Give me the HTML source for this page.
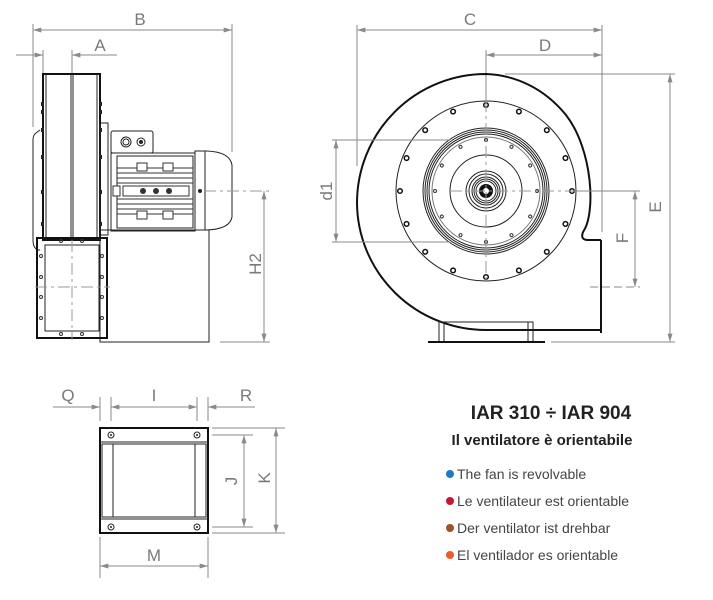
<!DOCTYPE html>
<html><head><meta charset="utf-8"><style>
html,body{margin:0;padding:0;background:#fff;width:713px;height:600px;overflow:hidden}
svg{display:block}
.d{stroke:#8a8a8a;stroke-width:1;fill:none}
.k{stroke:#222;fill:none;stroke-width:1}
.kk{stroke:#111;fill:none;stroke-width:2}
.c{stroke:#999;stroke-width:1;fill:none;stroke-dasharray:12 4 3 4}
.lab{font-family:"Liberation Sans",sans-serif;font-size:17px;fill:#7a7a7a}
</style></head><body>
<svg width="713" height="600" viewBox="0 0 713 600" xmlns="http://www.w3.org/2000/svg">
<defs>
<marker id="a" viewBox="0 0 10 6" refX="10" refY="3" markerWidth="12" markerHeight="5" orient="auto-start-reverse" markerUnits="userSpaceOnUse"><path d="M0 0L10 3L0 6z" fill="#8a8a8a"/></marker>
</defs>

<line class="d" x1="33" y1="30" x2="232" y2="30" marker-start="url(#a)" marker-end="url(#a)"/>
<line class="d" x1="33" y1="24" x2="33" y2="127"/>
<line class="d" x1="232" y1="24" x2="232" y2="152"/>
<text class="lab" x="140" y="25" text-anchor="middle">B</text>
<line class="d" x1="16" y1="55" x2="43" y2="55" marker-end="url(#a)"/>
<line class="d" x1="72" y1="55" x2="117" y2="55" marker-start="url(#a)"/>
<line class="d" x1="43" y1="50" x2="43" y2="74"/>
<line class="d" x1="72" y1="50" x2="72" y2="74"/>
<text class="lab" x="100" y="51" text-anchor="middle">A</text>

<path class="k" d="M40 130 L36 133 Q33 135 33 140 L33 240 Q33 248 38 250 L40 250"/>
<rect class="kk" x="43" y="74" width="57" height="166" stroke-width="1.5"/>
<line class="k" x1="46" y1="74" x2="46" y2="240"/>
<line class="k" x1="97" y1="74" x2="97" y2="240"/>
<line class="k" x1="71" y1="74" x2="71" y2="240"/>
<line class="k" x1="73" y1="74" x2="73" y2="240"/>
<g fill="#222">
<rect x="41" y="102" width="3" height="4"/><rect x="41" y="110" width="3" height="4"/><rect x="41" y="128" width="3" height="4"/><rect x="41" y="155" width="3" height="4"/><rect x="41" y="190" width="3" height="4"/><rect x="41" y="222" width="3" height="4"/>
<rect x="99" y="102" width="3" height="4"/><rect x="99" y="110" width="3" height="4"/><rect x="99" y="128" width="3" height="4"/><rect x="99" y="155" width="3" height="4"/><rect x="99" y="190" width="3" height="4"/><rect x="99" y="222" width="3" height="4"/>
</g>
<rect class="k" x="100" y="123" width="8" height="112"/>
<rect class="k" x="111" y="131" width="42" height="22" rx="2"/>
<circle class="k" cx="126" cy="142" r="5"/><circle class="k" cx="126" cy="142" r="3"/>
<circle class="k" cx="141" cy="142" r="4"/><circle cx="141" cy="142" r="2" fill="#222"/>
<rect class="k" x="111" y="153" width="84" height="78"/>
<rect class="k" x="117" y="156" width="76" height="72"/>
<g stroke="#333" stroke-width="1">
<line x1="117" y1="168" x2="193" y2="168"/><line x1="117" y1="173" x2="193" y2="173"/><line x1="117" y1="178" x2="193" y2="178"/><line x1="117" y1="183" x2="193" y2="183"/>
<line x1="117" y1="199" x2="193" y2="199"/><line x1="117" y1="204" x2="193" y2="204"/><line x1="117" y1="209" x2="193" y2="209"/><line x1="117" y1="214" x2="193" y2="214"/>
</g>
<rect x="123" y="186" width="66" height="10" fill="#fff" stroke="#333"/>
<circle cx="143" cy="191" r="3" fill="#333"/><circle cx="156" cy="191" r="3" fill="#333"/><circle cx="169" cy="191" r="3" fill="#333"/>
<rect x="137" y="163" width="10" height="8" fill="#fff" stroke="#333"/><rect x="163" y="163" width="10" height="8" fill="#fff" stroke="#333"/>
<rect x="137" y="211" width="10" height="8" fill="#fff" stroke="#333"/><rect x="163" y="211" width="10" height="8" fill="#fff" stroke="#333"/>
<rect x="113" y="186" width="7" height="10" fill="#fff" stroke="#333"/>
<path class="k" d="M195 151 L207 151 Q230 152 232 165 L232 217 Q230 229 207 230 L195 230 Z"/>
<line class="k" x1="205" y1="151" x2="205" y2="230"/>
<circle cx="200" cy="191" r="2" fill="#222"/>
<rect class="k" x="100" y="230" width="109" height="112"/>
<rect class="kk" x="37" y="238" width="70" height="100" fill="#fff" stroke-width="1.5"/>
<rect class="k" x="45" y="245" width="54" height="86"/>
<g fill="none" stroke="#333">
<circle cx="61" cy="241" r="1.5"/><circle cx="82" cy="241" r="1.5"/><circle cx="61" cy="334" r="1.5"/><circle cx="82" cy="334" r="1.5"/>
<circle cx="41" cy="256" r="1.5"/><circle cx="41" cy="277" r="1.5"/><circle cx="41" cy="297" r="1.5"/><circle cx="41" cy="318" r="1.5"/>
<circle cx="102" cy="256" r="1.5"/><circle cx="102" cy="277" r="1.5"/><circle cx="102" cy="297" r="1.5"/><circle cx="102" cy="318" r="1.5"/>
</g>
<line class="c" x1="72" y1="240" x2="72" y2="340"/>
<line class="c" x1="35" y1="287" x2="110" y2="287"/>
<line class="c" x1="204" y1="191" x2="272" y2="191"/>
<line class="d" x1="220" y1="342" x2="270" y2="342"/>
<line class="d" x1="264" y1="191" x2="264" y2="342" marker-start="url(#a)" marker-end="url(#a)"/>
<text class="lab" transform="translate(261 264) rotate(-90)" text-anchor="middle">H2</text>

<line class="d" x1="357" y1="30" x2="602" y2="30" marker-start="url(#a)" marker-end="url(#a)"/>
<line class="d" x1="357" y1="25" x2="357" y2="166"/>
<line class="d" x1="602" y1="25" x2="602" y2="232"/>
<text class="lab" x="470" y="25" text-anchor="middle">C</text>
<line class="d" x1="486" y1="55" x2="602" y2="55" marker-start="url(#a)" marker-end="url(#a)"/>
<line class="d" x1="486" y1="50" x2="486" y2="100"/>
<text class="lab" x="545" y="51" text-anchor="middle">D</text>
<path class="kk" d="M583 232 C596 214 593 150 566 115 C544 88 515 75 486 74 A129 129 0 0 0 357 203 A129 128 0 0 0 486 330 L601 330 M601 240 L601 333 M583 232 Q580 240 588 240 L601 240"/>
<rect class="k" x="439" y="322" width="94" height="20"/>
<line class="k" x1="444" y1="322" x2="444" y2="342"/><line class="k" x1="528" y1="322" x2="528" y2="342"/>
<line class="kk" x1="428" y1="342" x2="545" y2="342"/>
<circle class="k" cx="486" cy="191" r="90"/>
<g fill="#fff" stroke="#111" stroke-width="1.5">
<circle cx="486" cy="105" r="2.3"/><circle cx="486" cy="105" r="2.3" transform="rotate(22.5 486 191)"/><circle cx="486" cy="105" r="2.3" transform="rotate(45 486 191)"/><circle cx="486" cy="105" r="2.3" transform="rotate(67.5 486 191)"/><circle cx="486" cy="105" r="2.3" transform="rotate(90 486 191)"/><circle cx="486" cy="105" r="2.3" transform="rotate(112.5 486 191)"/><circle cx="486" cy="105" r="2.3" transform="rotate(135 486 191)"/><circle cx="486" cy="105" r="2.3" transform="rotate(157.5 486 191)"/><circle cx="486" cy="105" r="2.3" transform="rotate(180 486 191)"/><circle cx="486" cy="105" r="2.3" transform="rotate(202.5 486 191)"/><circle cx="486" cy="105" r="2.3" transform="rotate(225 486 191)"/><circle cx="486" cy="105" r="2.3" transform="rotate(247.5 486 191)"/><circle cx="486" cy="105" r="2.3" transform="rotate(270 486 191)"/><circle cx="486" cy="105" r="2.3" transform="rotate(292.5 486 191)"/><circle cx="486" cy="105" r="2.3" transform="rotate(315 486 191)"/><circle cx="486" cy="105" r="2.3" transform="rotate(337.5 486 191)"/>
</g>
<g class="k">
<circle cx="486" cy="191" r="63"/><circle cx="486" cy="191" r="61"/><circle cx="486" cy="191" r="59"/><circle cx="486" cy="191" r="57"/>
<circle cx="486" cy="191" r="54" stroke="#777"/>
<circle cx="486" cy="191" r="36"/>
<circle cx="486" cy="191" r="20"/><circle cx="486" cy="191" r="17"/><circle cx="486" cy="191" r="14"/><circle cx="486" cy="191" r="12"/><circle cx="486" cy="191" r="10"/>
</g>
<circle cx="486" cy="191" r="7" fill="#111"/><circle cx="486" cy="191" r="3" fill="#fff"/>
<g fill="#fff" stroke="#333">
<circle cx="486" cy="140" r="1.5"/><circle cx="486" cy="140" r="1.5" transform="rotate(30 486 191)"/><circle cx="486" cy="140" r="1.5" transform="rotate(60 486 191)"/><circle cx="486" cy="140" r="1.5" transform="rotate(90 486 191)"/><circle cx="486" cy="140" r="1.5" transform="rotate(120 486 191)"/><circle cx="486" cy="140" r="1.5" transform="rotate(150 486 191)"/><circle cx="486" cy="140" r="1.5" transform="rotate(180 486 191)"/><circle cx="486" cy="140" r="1.5" transform="rotate(210 486 191)"/><circle cx="486" cy="140" r="1.5" transform="rotate(240 486 191)"/><circle cx="486" cy="140" r="1.5" transform="rotate(270 486 191)"/><circle cx="486" cy="140" r="1.5" transform="rotate(300 486 191)"/><circle cx="486" cy="140" r="1.5" transform="rotate(330 486 191)"/>
</g>
<line class="c" x1="486" y1="100" x2="486" y2="282"/>
<line class="c" x1="450" y1="191" x2="580" y2="191"/>
<line class="d" x1="332" y1="140" x2="450" y2="140"/>
<line class="d" x1="332" y1="242" x2="450" y2="242"/>
<line class="d" x1="336" y1="140" x2="336" y2="242" marker-start="url(#a)" marker-end="url(#a)"/>
<text class="lab" transform="translate(332 191) rotate(-90)" text-anchor="middle">d1</text>
<line class="d" x1="575" y1="191" x2="640" y2="191"/>
<line class="d" x1="590" y1="287" x2="640" y2="287" stroke-dasharray="8 4"/>
<line class="d" x1="635" y1="191" x2="635" y2="287" marker-start="url(#a)" marker-end="url(#a)"/>
<text class="lab" transform="translate(628 238) rotate(-90)" text-anchor="middle">F</text>
<line class="d" x1="505" y1="74" x2="675" y2="74"/>
<line class="d" x1="551" y1="342" x2="675" y2="342"/>
<line class="d" x1="670" y1="74" x2="670" y2="342" marker-start="url(#a)" marker-end="url(#a)"/>
<text class="lab" transform="translate(661 207) rotate(-90)" text-anchor="middle">E</text>

<line class="d" x1="53" y1="407" x2="100" y2="407" marker-end="url(#a)"/>
<line class="d" x1="111" y1="407" x2="197" y2="407" marker-start="url(#a)" marker-end="url(#a)"/>
<line class="d" x1="208" y1="407" x2="255" y2="407" marker-start="url(#a)"/>
<line class="d" x1="100" y1="397" x2="100" y2="421"/><line class="d" x1="111" y1="397" x2="111" y2="421"/>
<line class="d" x1="197" y1="397" x2="197" y2="421"/><line class="d" x1="208" y1="397" x2="208" y2="421"/>
<text class="lab" x="68" y="401" text-anchor="middle">Q</text>
<text class="lab" x="154" y="401" text-anchor="middle">I</text>
<text class="lab" x="246" y="401" text-anchor="middle">R</text>
<rect class="kk" x="100" y="428" width="108" height="105" stroke-width="1.5"/>
<line class="k" x1="100" y1="442" x2="208" y2="442"/>
<line class="k" x1="100" y1="519" x2="208" y2="519"/>
<rect class="k" x="102" y="444" width="104" height="73"/>
<line class="k" x1="113" y1="444" x2="113" y2="517"/>
<line class="k" x1="195" y1="444" x2="195" y2="517"/>
<g fill="#fff" stroke="#222"><circle cx="111" cy="435" r="3"/><circle cx="197" cy="435" r="3"/><circle cx="111" cy="527" r="3"/><circle cx="197" cy="527" r="3"/></g>
<g fill="#222"><circle cx="111" cy="435" r="1"/><circle cx="197" cy="435" r="1"/><circle cx="111" cy="527" r="1"/><circle cx="197" cy="527" r="1"/></g>
<line class="d" x1="212" y1="435" x2="253" y2="435"/>
<line class="d" x1="212" y1="527" x2="253" y2="527"/>
<line class="d" x1="244" y1="435" x2="244" y2="527" marker-start="url(#a)" marker-end="url(#a)"/>
<text class="lab" transform="translate(237 481) rotate(-90)" text-anchor="middle">J</text>
<line class="d" x1="212" y1="428" x2="285" y2="428"/>
<line class="d" x1="212" y1="533" x2="285" y2="533"/>
<line class="d" x1="276" y1="428" x2="276" y2="533" marker-start="url(#a)" marker-end="url(#a)"/>
<text class="lab" transform="translate(270 478) rotate(-90)" text-anchor="middle">K</text>
<line class="d" x1="100" y1="537" x2="100" y2="578"/>
<line class="d" x1="208" y1="537" x2="208" y2="578"/>
<line class="d" x1="100" y1="566" x2="208" y2="566" marker-start="url(#a)" marker-end="url(#a)"/>
<text class="lab" x="154" y="561" text-anchor="middle">M</text>

<text x="551" y="419" text-anchor="middle" style="font-family:'Liberation Sans',sans-serif;font-weight:bold;font-size:19px;fill:#222">IAR 310 ÷ IAR 904</text>
<text x="542" y="445" text-anchor="middle" style="font-family:'Liberation Sans',sans-serif;font-weight:bold;font-size:15px;fill:#222">Il ventilatore è orientabile</text>
<g style="font-family:'Liberation Sans',sans-serif;font-size:14px;fill:#444">
<circle cx="450" cy="474" r="4" fill="#1e78c8"/><text x="457" y="479">The fan is revolvable</text>
<circle cx="450" cy="501" r="4" fill="#c8182e"/><text x="457" y="506">Le ventilateur est orientable</text>
<circle cx="450" cy="528" r="4" fill="#a0502a"/><text x="457" y="533">Der ventilator ist drehbar</text>
<circle cx="450" cy="555" r="4" fill="#f05a28"/><text x="457" y="560">El ventilador es orientable</text>
</g>
</svg>
</body></html>
